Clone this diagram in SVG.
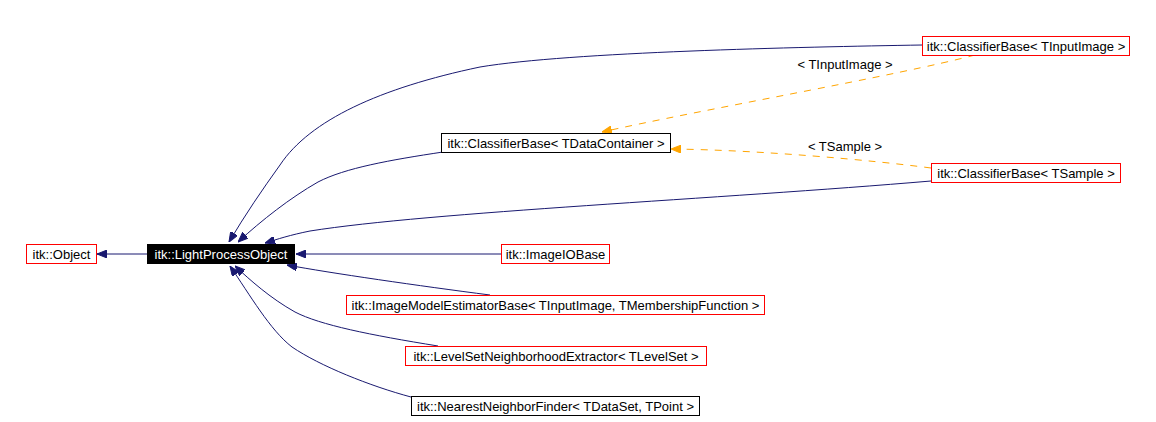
<svg xmlns="http://www.w3.org/2000/svg" width="1156" height="422" viewBox="0 0 1156 422">
<style>
text{font-family:"Liberation Sans",Arial,sans-serif;font-size:13px;fill:#000}
.r{fill:#fff;stroke:#ff0000;stroke-width:1}
.k{fill:#fff;stroke:#000;stroke-width:1}
.e{fill:none;stroke:#191970;stroke-width:1}
.d{fill:none;stroke:#ffa500;stroke-width:1;stroke-dasharray:7,7}
</style>
<defs>
<marker id="a" viewBox="0 0 10 8" refX="10" refY="4" markerWidth="10" markerHeight="8" markerUnits="userSpaceOnUse" orient="auto"><path d="M0,0L10,4L0,8z" fill="#191970" stroke="#191970"/></marker>
<marker id="o" viewBox="0 0 10 8" refX="10" refY="4" markerWidth="10" markerHeight="8" markerUnits="userSpaceOnUse" orient="auto"><path d="M0,0L10,4L0,8z" fill="#ffa500" stroke="#ffa500"/></marker>
</defs>
<rect width="1156" height="422" fill="#fff"/>
<g id="connectors">
<path class="e" marker-end="url(#a)" d="M147,254L97,254"/>
<path class="e" marker-end="url(#a)" d="M922,45C800,47 570,52 480,67C380,88 310,120 280,165C262,190 245,215 229,242"/>
<path class="e" marker-end="url(#a)" d="M443,152C390,160 345,168 318,182C290,198 262,220 238,242"/>
<path class="e" marker-end="url(#a)" d="M931,181C720,199 430,212 310,231C290,235 278,239 265,243"/>
<path class="e" marker-end="url(#a)" d="M501,254L296,254"/>
<path class="e" marker-end="url(#a)" d="M490,295C420,286 330,273 287,265"/>
<path class="e" marker-end="url(#a)" d="M438,346C370,335 320,325 295,312C270,298 250,280 235,266"/>
<path class="e" marker-end="url(#a)" d="M411,397C370,386 320,366 292,347C270,330 250,295 230,266"/>
<path class="d" marker-end="url(#o)" d="M975,55C900,75 700,110 602,132"/>
<path class="d" marker-end="url(#o)" d="M931,168C870,160 760,150 671,149"/>
<text x="845" y="69" text-anchor="middle">&lt; TInputImage &gt;</text>
<text x="845" y="151" text-anchor="middle">&lt; TSample &gt;</text>
</g>
<g id="object"><rect class="r" x="26.5" y="244.5" width="70" height="19"/><text x="61.5" y="258.5" text-anchor="middle">itk::Object</text></g>
<g id="lpo"><rect x="147" y="244" width="148" height="20" fill="#000"/><text x="221" y="258.5" text-anchor="middle" style="fill:#fff">itk::LightProcessObject</text></g>
<g id="cb_dc"><rect class="k" x="441.5" y="133.5" width="229" height="19"/><text x="556" y="147.5" text-anchor="middle">itk::ClassifierBase&lt; TDataContainer &gt;</text></g>
<g id="cb_ii"><rect class="r" x="922.5" y="36.5" width="207" height="19"/><text x="1026" y="50.5" text-anchor="middle">itk::ClassifierBase&lt; TInputImage &gt;</text></g>
<g id="cb_s"><rect class="r" x="931.5" y="163.5" width="189" height="19"/><text x="1026" y="177.5" text-anchor="middle">itk::ClassifierBase&lt; TSample &gt;</text></g>
<g id="imageio"><rect class="r" x="501.5" y="244.5" width="108" height="19"/><text x="555.5" y="258.5" text-anchor="middle">itk::ImageIOBase</text></g>
<g id="imeb"><rect class="r" x="346.5" y="295.5" width="418" height="19"/><text x="555.5" y="309.5" text-anchor="middle">itk::ImageModelEstimatorBase&lt; TInputImage, TMembershipFunction &gt;</text></g>
<g id="lsne"><rect class="r" x="405.5" y="346.5" width="301" height="19"/><text x="556" y="360.5" text-anchor="middle">itk::LevelSetNeighborhoodExtractor&lt; TLevelSet &gt;</text></g>
<g id="nnf"><rect class="k" x="411.5" y="396.5" width="288" height="19"/><text x="555.5" y="410.5" text-anchor="middle">itk::NearestNeighborFinder&lt; TDataSet, TPoint &gt;</text></g>
</svg>
